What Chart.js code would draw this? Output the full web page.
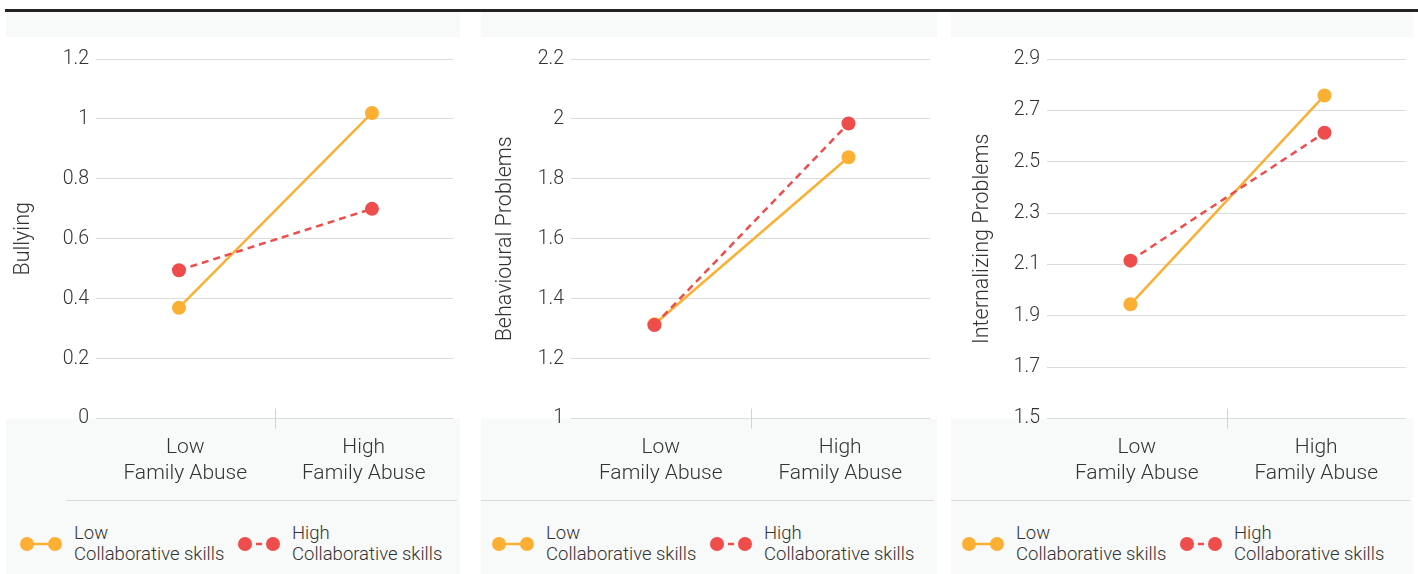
<!DOCTYPE html>
<html>
<head>
<meta charset="utf-8">
<script src="https://cdn.jsdelivr.net/npm/chart.js@4.4.1/dist/chart.umd.min.js"></script>
<style>
  body { margin: 0; background: #fff; width: 1418px; height: 574px; overflow: hidden; position: relative; font-family: Roboto, sans-serif; font-weight: 300; }
  .rule { position: absolute; left: 5px; top: 9px; width: 1413px; height: 3px; background: #222; }
  .panel { position: absolute; top: 12px; height: 562px; background: #f8f9f9; }
  .panel canvas { position: absolute; left: 0; top: 0; }
  .divider { position: absolute; top: 488px; height: 1px; background: #dcdcdc; }
  .item { position: absolute; top: 511px; display: flex; align-items: center; color: #333; font-size: 18.5px; line-height: 21px; }
  .item svg { margin-right: 12px; }
</style>
</head>
<body>
<div class="rule"></div>
<div class="panel" id="p0"><canvas id="c0" width="454" height="500"></canvas></div>
<div class="panel" id="p1"><canvas id="c1" width="456" height="500"></canvas></div>
<div class="panel" id="p2"><canvas id="c2" width="462" height="500"></canvas></div>

<script>
// data
const categories = [['Low', 'Family Abuse'], ['High', 'Family Abuse']];
const seriesNames = [['Low', 'Collaborative skills'], ['High', 'Collaborative skills']];
const seriesColors = ['#fbb034', '#ef4c4c'];

const yTitles = ['Bullying', 'Behavioural Problems', 'Internalizing Problems'];
const yMin = [0, 1, 1.5];
const yMax = [1.2, 2.2, 2.9];

const bullyingLow = [0.37, 1.02];
const bullyingHigh = [0.495, 0.70];
const behaviourLow = [1.315, 1.872];
const behaviourHigh = [1.312, 1.985];
const internalLow = [1.945, 2.758];
const internalHigh = [2.115, 2.613];

const lowSkills = [bullyingLow, behaviourLow, internalLow];
const highSkills = [bullyingHigh, behaviourHigh, internalHigh];

// panel placement
const panelLeft = [6, 481, 951];
const panelWidth = [454, 456, 462];
const axisWidth = [90, 90, 96];
const titlePad = [5, 12, 19];
const dividerLeft = [60, 0, 0];
const legendLeft = [14, 11, 11];

// grey header + grey footer behind the plot, middle separator tick
const panelBg = {
  id: 'panelBg',
  beforeDraw(chart) {
    const { ctx, chartArea, width } = chart;
    ctx.save();
    ctx.fillStyle = '#ffffff';
    ctx.fillRect(0, 25, width, chartArea.bottom - 25);
    ctx.restore();
  },
  beforeDatasetsDraw(chart) {
    const { ctx, chartArea, scales } = chart;
    const mid = Math.round((scales.x.getPixelForValue(0) + scales.x.getPixelForValue(1)) / 2) + 0.5;
    ctx.save();
    ctx.strokeStyle = '#d4d4d4';
    ctx.lineWidth = 1;
    ctx.beginPath();
    ctx.moveTo(mid, chartArea.bottom - 10);
    ctx.lineTo(mid, chartArea.bottom + 10);
    ctx.stroke();
    ctx.restore();
  }
};

function makeChart(i) {
  const panel = document.getElementById('p' + i);
  panel.style.left = panelLeft[i] + 'px';
  panel.style.width = panelWidth[i] + 'px';

  const ds = [lowSkills[i], highSkills[i]].map((vals, k) => ({
    label: seriesNames[k].join(' '),
    data: vals.map((v, j) => ({ x: j, y: v })),
    xAxisID: 'xp',
    borderColor: seriesColors[k],
    backgroundColor: seriesColors[k],
    borderWidth: 2.5,
    borderDash: k === 1 ? [7, 5] : [],
    pointRadius: 7,
    pointHoverRadius: 7,
    pointBorderWidth: 0,
    order: k === 1 ? 0 : 1
  }));

  new Chart(document.getElementById('c' + i), {
    type: 'line',
    data: { labels: categories, datasets: ds },
    plugins: [panelBg],
    options: {
      responsive: false,
      animation: false,
      layout: { padding: { top: 47, right: panelWidth[i] - axisWidth[i] - 359, bottom: 9, left: 0 } },
      plugins: { legend: { display: false }, tooltip: { enabled: false } },
      scales: {
        x: {
          offset: true,
          grid: { display: false, drawTicks: false },
          border: { display: false },
          ticks: {
            padding: 17,
            color: '#333',
            font: { family: 'Roboto', weight: 300, size: 21, lineHeight: 1.2 }
          }
        },
        xp: {
          type: 'linear',
          display: false,
          min: -0.43,
          max: 1.42
        },
        y: {
          min: yMin[i],
          max: yMax[i],
          afterFit(scale) { scale.width = axisWidth[i]; },
          grid: { color: '#dcdcdc', drawTicks: false },
          border: { display: false },
          ticks: {
            stepSize: 0.2,
            padding: 7,
            color: '#333',
            font: { family: 'Roboto', weight: 300, size: 19.5 },
            callback: v => Math.round(v * 10) / 10
          },
          title: {
            display: true,
            text: yTitles[i],
            color: '#333',
            padding: { top: titlePad[i], bottom: 0 },
            font: { family: 'Roboto', weight: 300, size: 21.5, lineHeight: 1.2 }
          }
        }
      }
    }
  });

  // divider under the category labels
  const div = document.createElement('div');
  div.className = 'divider';
  div.style.left = dividerLeft[i] + 'px';
  div.style.width = (panelWidth[i] - dividerLeft[i] - 3) + 'px';
  panel.appendChild(div);

  // legend
  seriesNames.forEach((name, k) => {
    const item = document.createElement('div');
    item.className = 'item';
    item.style.left = (legendLeft[i] + k * 218) + 'px';
    const c = seriesColors[k];
    const line = k === 0
      ? `<line x1="7" y1="8" x2="35" y2="8" stroke="${c}" stroke-width="2.5"/>`
      : `<line x1="18" y1="8" x2="24" y2="8" stroke="${c}" stroke-width="2.5"/>`;
    item.innerHTML = `<svg width="42" height="16">${line}<circle cx="7" cy="8" r="7" fill="${c}"/><circle cx="35" cy="8" r="7" fill="${c}"/></svg><div>${name[0]}<br>${name[1]}</div>`;
    panel.appendChild(item);
  });
}

[0, 1, 2].forEach(makeChart);
</script>
</body>
</html>
